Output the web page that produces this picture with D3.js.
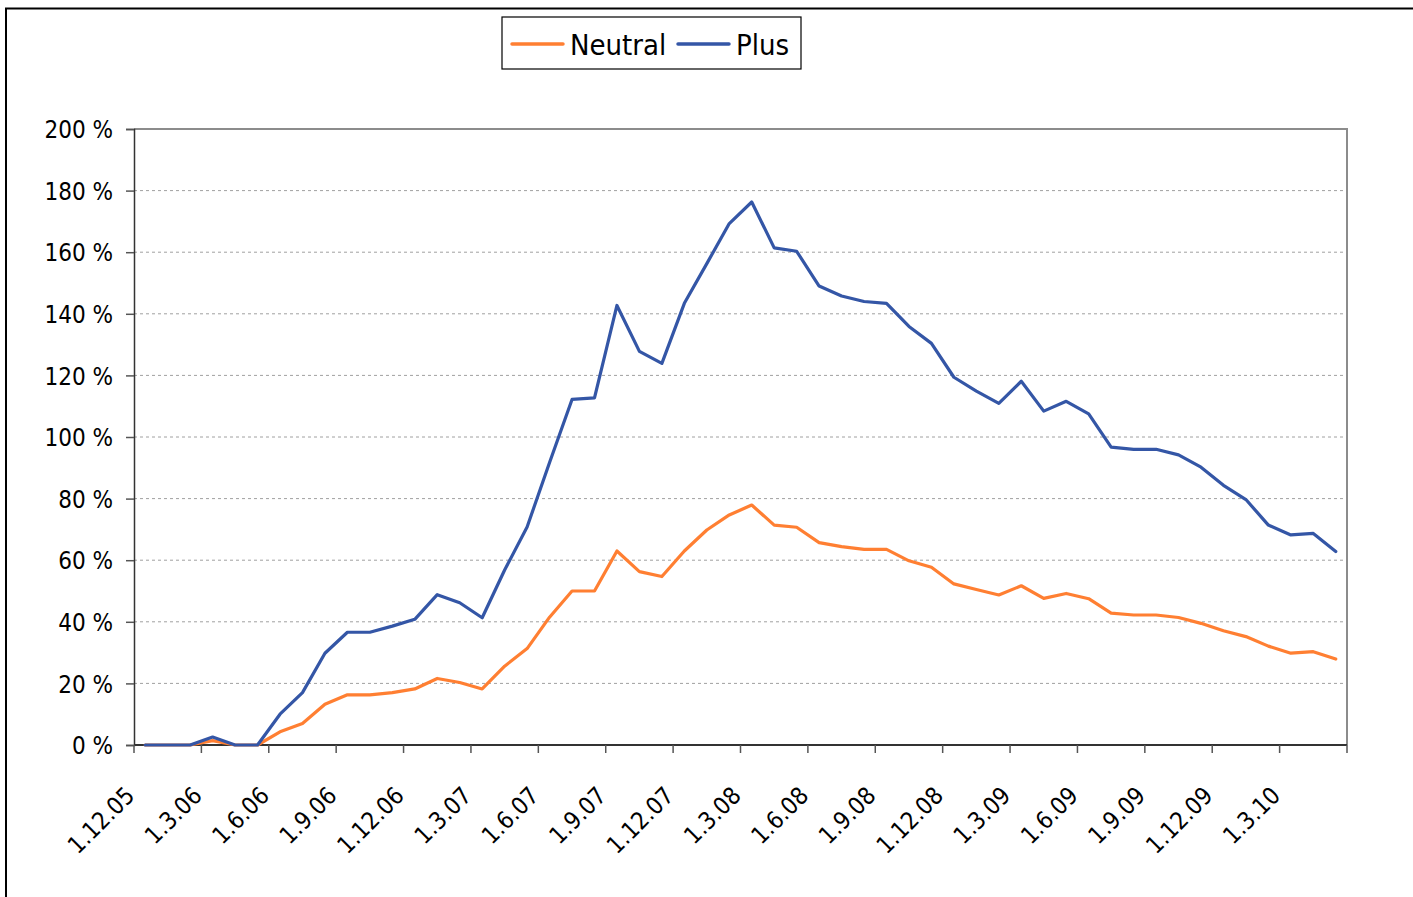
<!DOCTYPE html>
<html>
<head>
<meta charset="utf-8">
<script src="https://cdn.jsdelivr.net/npm/d3@7"></script>
<style>
  html, body { margin: 0; padding: 0; background: #fff; }
  svg { display: block; }
  text { font-family: "DejaVu Sans Condensed", "DejaVu Sans", sans-serif; fill: #000; }
</style>
</head>
<body>
<svg id="chart" width="1413" height="897"></svg>
<script>
const months = [
  "1.12.05","1.1.06","1.2.06","1.3.06","1.4.06","1.5.06","1.6.06","1.7.06","1.8.06","1.9.06","1.10.06","1.11.06",
  "1.12.06","1.1.07","1.2.07","1.3.07","1.4.07","1.5.07","1.6.07","1.7.07","1.8.07","1.9.07","1.10.07","1.11.07",
  "1.12.07","1.1.08","1.2.08","1.3.08","1.4.08","1.5.08","1.6.08","1.7.08","1.8.08","1.9.08","1.10.08","1.11.08",
  "1.12.08","1.1.09","1.2.09","1.3.09","1.4.09","1.5.09","1.6.09","1.7.09","1.8.09","1.9.09","1.10.09","1.11.09",
  "1.12.09","1.1.10","1.2.10","1.3.10","1.4.10","1.5.10"
];
const neutral = [
  0,0,0,1.4,0,0, 4.3,7,13.2,16.3,16.3,17,
  18.2,21.6,20.3,18.2,25.6,31.3, 41.5,50,50,63,56.3,54.7,
  63,69.8,74.7,77.9,71.4,70.7, 65.7,64.4,63.5,63.5,59.8,57.7,
  52.3,50.5,48.7,51.7,47.6,49.2, 47.5,42.8,42.2,42.2,41.4,39.5,
  37.1,35.2,32.1,29.8,30.3,27.9
];
const plus = [
  0,0,0,2.6,0,0, 10,17,29.8,36.6,36.6,38.6,
  40.8,48.8,46.2,41.3,56.8,70.8, 91.7,112.2,112.7,142.7,127.8,123.9,
  143.4,156.3,169.3,176.3,161.4,160.3, 149,145.8,144,143.4,135.9,130.4,
  119.4,114.9,110.9,118.1,108.4,111.6, 107.5,96.7,96,96,94.2,90.2,
  84.3,79.7,71.4,68.2,68.7,62.8
];
const tickLabels = ["1.12.05","1.3.06","1.6.06","1.9.06","1.12.06","1.3.07","1.6.07","1.9.07","1.12.07",
  "1.3.08","1.6.08","1.9.08","1.12.08","1.3.09","1.6.09","1.9.09","1.12.09","1.3.10"];
const yTicks = [0,20,40,60,80,100,120,140,160,180,200];
const seriesNames = ["Neutral","Plus"];
const seriesColors = ["#FF7F32","#3456A6"];

const svg = d3.select("#chart");
const L = 134, R = 1347, T = 129, B = 745;

// outer chart border
svg.append("rect").attr("x",6).attr("y",8.5).attr("width",1440).attr("height",1000)
  .attr("fill","none").attr("stroke","#000").attr("stroke-width",2);

const x = d3.scaleBand().domain(months).range([L, R]).padding(0);
const y = d3.scaleLinear().domain([0,200]).range([B, T]);

// gridlines
svg.append("g").selectAll("line").data(yTicks.filter(d => d > 0 && d < 200)).join("line")
  .attr("x1", L).attr("x2", R).attr("y1", d => y(d)).attr("y2", d => y(d))
  .attr("stroke","#a0a0a0").attr("stroke-width",1).attr("stroke-dasharray","3,3");

// plot area border (top and right, gray)
svg.append("line").attr("x1",L).attr("x2",R+1).attr("y1",T).attr("y2",T)
  .attr("stroke","#8c8c8c").attr("stroke-width",2);
svg.append("line").attr("x1",R).attr("x2",R).attr("y1",T).attr("y2",B)
  .attr("stroke","#8c8c8c").attr("stroke-width",2);

// y axis
const yAxis = d3.axisLeft(y).tickValues(yTicks).tickSize(8).tickFormat(d => d + " %");
const gy = svg.append("g").attr("transform", `translate(${L},0)`).call(yAxis);
gy.select(".domain").attr("stroke","#333").attr("stroke-width",1.5);
gy.selectAll(".tick line").attr("stroke","#555").attr("stroke-width",1.5);
gy.selectAll(".tick text").attr("x",-21).attr("dy","0.36em")
  .style("font-size","24px").style("font-family",'"DejaVu Sans Condensed","DejaVu Sans",sans-serif').attr("fill","#000");

// x axis ticks at every third month boundary
const tickIdx = tickLabels.map(t => months.indexOf(t));
const tickXs = tickIdx.map(i => x(months[i])).concat([R]);
const gx = svg.append("g");
gx.append("line").attr("x1",L).attr("x2",R).attr("y1",B).attr("y2",B)
  .attr("stroke","#333").attr("stroke-width",2);
gx.selectAll("line.tk").data(tickXs).join("line").attr("class","tk")
  .attr("x1", d => d).attr("x2", d => d).attr("y1", B).attr("y2", B + 8)
  .attr("stroke","#555").attr("stroke-width",1.5);
gx.selectAll("text").data(tickLabels).join("text")
  .attr("transform", d => `translate(${x(d) + 2},${797}) rotate(-45)`)
  .attr("text-anchor","end")
  .style("font-size","24px")
  .text(d => d);

// lines
const line = d3.line().x((d,i) => x(months[i]) + x.bandwidth()/2).y(d => y(d));
[neutral, plus].forEach((s, k) => {
  svg.append("path").datum(s).attr("d", line)
    .attr("fill","none").attr("stroke", seriesColors[k]).attr("stroke-width",3.2)
    .attr("stroke-linejoin","round").attr("stroke-linecap","round");
});

// legend
const lg = svg.append("g");
lg.append("rect").attr("x",502).attr("y",17).attr("width",299).attr("height",52)
  .attr("fill","#fff").attr("stroke","#000").attr("stroke-width",1.2);
const legendItems = [
  {name: seriesNames[0], color: seriesColors[0], x1: 512, x2: 563, tx: 570},
  {name: seriesNames[1], color: seriesColors[1], x1: 678, x2: 729, tx: 736}
];
legendItems.forEach(it => {
  lg.append("line").attr("x1",it.x1).attr("x2",it.x2).attr("y1",44).attr("y2",44)
    .attr("stroke",it.color).attr("stroke-width",3.5).attr("stroke-linecap","round");
  lg.append("text").attr("x",it.tx).attr("y",55).style("font-size","29px").text(it.name);
});
</script>
</body>
</html>
